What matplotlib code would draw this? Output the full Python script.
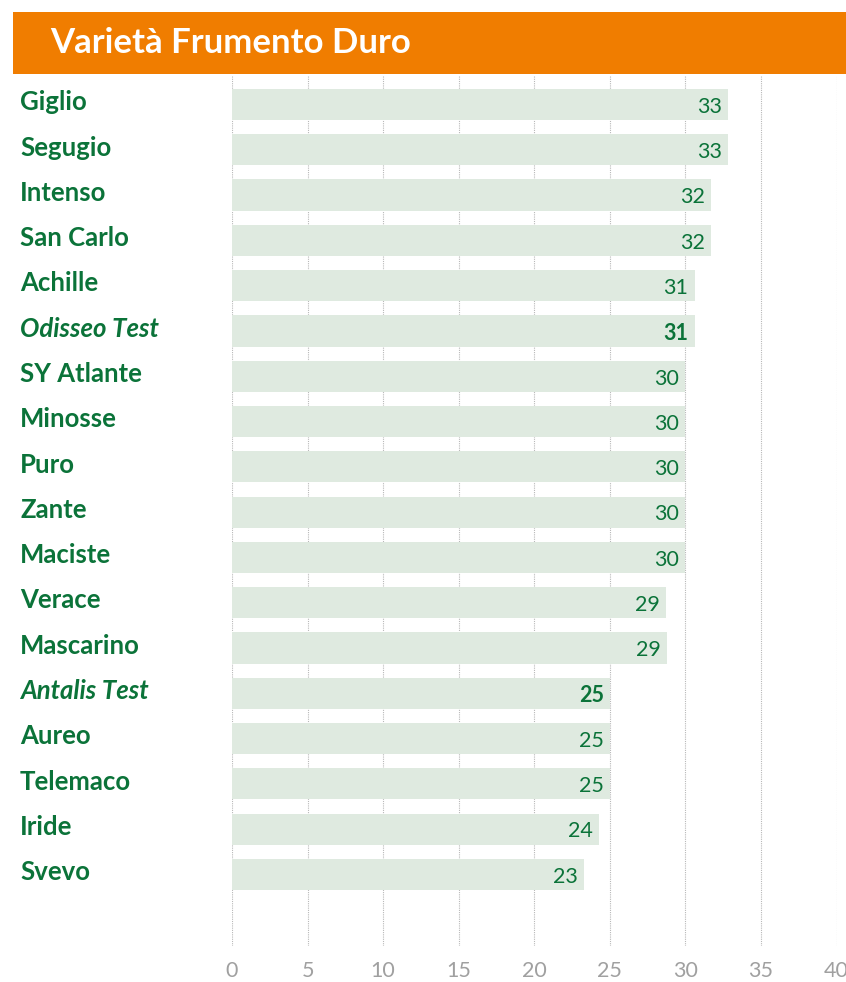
import matplotlib as mpl
mpl.use('Agg')
import matplotlib.pyplot as plt
from matplotlib.patches import Rectangle
import matplotlib.transforms as mtrans

# data
varieties = ['Giglio', 'Segugio', 'Intenso', 'San Carlo', 'Achille', 'Odisseo Test',
             'SY Atlante', 'Minosse', 'Puro', 'Zante', 'Maciste', 'Verace',
             'Mascarino', 'Antalis Test', 'Aureo', 'Telemaco', 'Iride', 'Svevo']
values = [32.8, 32.8, 31.7, 31.7, 30.6, 30.6,
          30.0, 30.0, 30.0, 30.0, 30.0, 28.7,
          28.8, 25.0, 25.0, 25.0, 24.3, 23.3]
labels = ['33', '33', '32', '32', '31', '31',
          '30', '30', '30', '30', '30', '29',
          '29', '25', '25', '25', '24', '23']
test_rows = ['Odisseo Test', 'Antalis Test']
x_ticks = [0, 5, 10, 15, 20, 25, 30, 35, 40]

ORANGE = '#f07d00'
GREEN = '#0b7339'
BAR = '#dfeae0'
GREY = '#a0a0a0'

W, H = 846, 982
fig = plt.figure(figsize=(W/100, H/100), dpi=100)
ax = fig.add_axes([232/W, 1-946/H, (836.6-232)/W, (946-75)/H])

n = len(varieties)
ax.barh(range(n), values, height=0.69, color=BAR, zorder=2)
ax.set_xlim(0, 40)
ax.set_ylim(18.58, -0.652)

for x in x_ticks:
	ax.axvline(x, color='#b8b8b8', lw=0.8, ls=(0, (1, 1)), zorder=1)

for i, (name, v, lab) in enumerate(zip(varieties, values, labels)):
	is_test = name in test_rows
	ax.text(v-0.4, i+0.05, lab, ha='right', va='center', color=GREEN,
			fontsize=15.5, family='Lato',
			fontweight='bold' if is_test else 'normal', zorder=3)

tr = mtrans.blended_transform_factory(fig.transFigure, ax.transData)
for i, name in enumerate(varieties):
	is_test = name in test_rows
	ax.text(20/W, i-0.05, name, transform=tr, ha='left', va='center', color=GREEN,
			fontsize=18.5, family='Lato', fontweight='bold',
			fontstyle='italic' if is_test else 'normal')

ax.set_xticks(x_ticks)
ax.set_xticklabels([str(t) for t in x_ticks], color=GREY, fontsize=15.5, family='Lato')
ax.tick_params(axis='x', length=0, pad=11)
ax.set_yticks([])
for s in ax.spines.values():
	s.set_visible(False)

# header band
fig.patches.append(Rectangle((13/W, 1-74/H), (W-13)/W, 62/H, transform=fig.transFigure,
							 facecolor=ORANGE, edgecolor='none'))
fig.text(50/W, 1-43/H, 'Varietà Frumento Duro', color='white', fontsize=25,
		 family='Lato', fontweight='bold', ha='left', va='center')

fig.savefig('out.png', dpi=100)
